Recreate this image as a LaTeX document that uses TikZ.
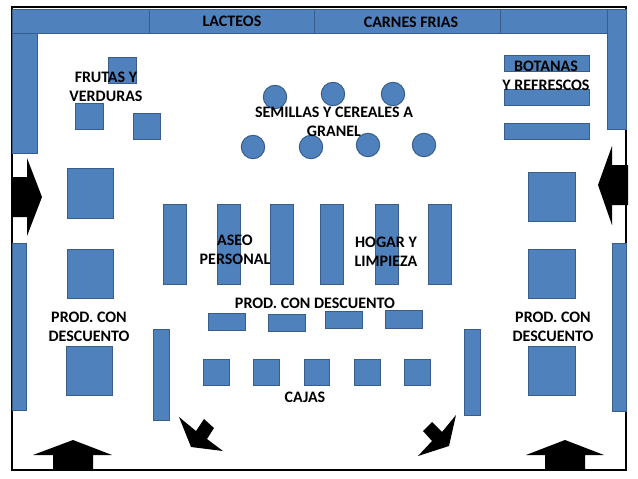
\documentclass[tikz,border=0pt]{standalone}
\usepackage{fontspec}
\setmainfont{Carlito}
\usepackage{tikz}
\definecolor{shelfblue}{HTML}{4F81BD}
\definecolor{shelfedge}{HTML}{385D8A}
\tikzset{
  shelf/.style={draw=shelfedge,fill=shelfblue,line width=1pt},
  wall/.style={draw=black,line width=2.2pt},
  door/.style={fill=black,draw=none},
  lbl/.style={font=\bfseries\fontsize{16}{19}\selectfont,align=center,text=black,inner sep=0pt}
}
\begin{document}
\begin{tikzpicture}[x=1pt,y=-1pt]
   \useasboundingbox (0,0) rectangle (638,479);
   \fill[white] (0,0) rectangle (638,479);

   \draw[wall] (12,7) -- (626,7) -- (626,470) -- (12,470) -- cycle;

   \draw[shelf] (12,9) rectangle (149,33);
   \draw[shelf] (149,9) rectangle (314,33);
   \draw[shelf] (314,9) rectangle (500,33);
   \draw[shelf] (500,9) rectangle (607,33);
   \draw[shelf] (607,9) rectangle (626,129);
   \draw[shelf] (12,33) rectangle (37,153);
   \draw[shelf] (12,243) rectangle (26,410);
   \draw[shelf] (612,243) rectangle (626,411);

   \draw[shelf] (108,57) rectangle (136,83);
   \draw[shelf] (75,103) rectangle (103,129);
   \draw[shelf] (133,113) rectangle (160,139);

   \draw[shelf] (67,168) rectangle (113,218);
   \draw[shelf] (67,249) rectangle (113,298);
   \draw[shelf] (66,346) rectangle (112,395);
   \draw[shelf] (528,172) rectangle (575,221);
   \draw[shelf] (528,249) rectangle (575,298);
   \draw[shelf] (528,346) rectangle (575,395);

   \draw[shelf] (504,55) rectangle (589,71);
   \draw[shelf] (504,89) rectangle (589,105);
   \draw[shelf] (504,123) rectangle (589,139);

   \draw[shelf] (275,97) circle (11.7);
   \draw[shelf] (333,94) circle (11.7);
   \draw[shelf] (393,94) circle (11.7);
   \draw[shelf] (253,147) circle (11.7);
   \draw[shelf] (311,147) circle (11.7);
   \draw[shelf] (368,145) circle (11.7);
   \draw[shelf] (424,145) circle (11.7);

   \draw[shelf] (163,204) rectangle (186,284);
   \draw[shelf] (217,204) rectangle (240,284);
   \draw[shelf] (270,204) rectangle (293,284);
   \draw[shelf] (320,204) rectangle (343,284);
   \draw[shelf] (375,204) rectangle (398,284);
   \draw[shelf] (428,204) rectangle (451,284);

   \draw[shelf] (208,313) rectangle (245,330);
   \draw[shelf] (268,314) rectangle (305,331);
   \draw[shelf] (325,311) rectangle (362,328);
   \draw[shelf] (385,310) rectangle (422,328);

   \draw[shelf] (203,359) rectangle (229,385);
   \draw[shelf] (253,359) rectangle (279,385);
   \draw[shelf] (304,359) rectangle (329,385);
   \draw[shelf] (354,359) rectangle (380,385);
   \draw[shelf] (404,359) rectangle (430,385);

   \draw[shelf] (153,329) rectangle (169,420);
   \draw[shelf] (464,329) rectangle (480,415);

   \fill[door] (12,177) -- (27,177) -- (27,158) -- (42,197) -- (27,236) -- (27,217) -- (12,217) -- cycle;
   \fill[door] (628,165) -- (612,165) -- (612,146) -- (598,185) -- (612,225) -- (612,205) -- (628,205) -- cycle;
   \fill[door] (53,470) -- (53,455) -- (33,455) -- (73,440) -- (112,455) -- (93,455) -- (93,470) -- cycle;
   \fill[door] (545,470) -- (545,455) -- (526,455) -- (565,440) -- (604,455) -- (585,455) -- (585,470) -- cycle;
   \fill[door] (179,417) -- (191,447) -- (223,451) -- (207,439) -- (214,428) -- (204,419) -- (196,431) -- cycle;
   \fill[door] (456,415) -- (449,446) -- (418,456) -- (432,441) -- (423,431) -- (432,422) -- (442,432) -- cycle;

   \node[lbl] (lacteos) at (232,21.5) {LACTEOS};
   \node[lbl] (carnes) at (411,22.5) {CARNES FRIAS};
   \node[lbl] (frutas) at (106,87) {FRUTAS Y\\VERDURAS};
   \node[lbl] (botanas) at (546,76) {BOTANAS\\Y REFRESCOS};
   \node[lbl] (semillas) at (334,122) {SEMILLAS Y CEREALES A\\GRANEL};
   \node[lbl] (aseo) at (235,249.5) {ASEO\\PERSONAL};
   \node[lbl] (hogar) at (386,251.5) {HOGAR Y\\LIMPIEZA};
   \node[lbl] (descuento) at (315,303) {PROD. CON DESCUENTO};
   \node[lbl] (descizq) at (89,327) {PROD. CON\\DESCUENTO};
   \node[lbl] (descder) at (553,327) {PROD. CON\\DESCUENTO};
   \node[lbl] (cajas) at (305,397) {CAJAS};
\end{tikzpicture}
\end{document}
